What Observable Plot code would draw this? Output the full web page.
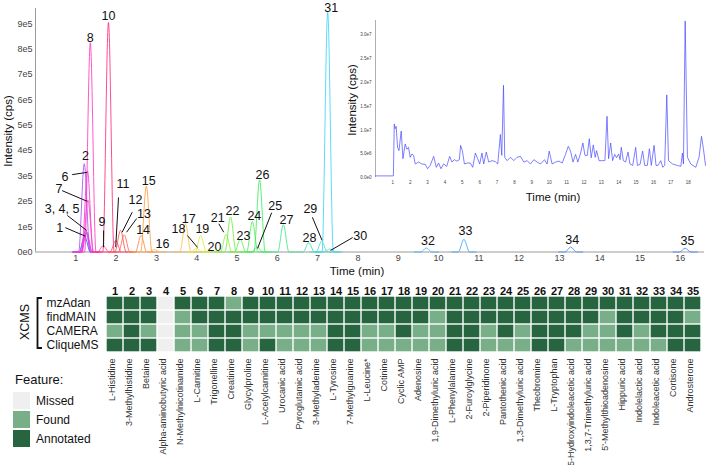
<!DOCTYPE html>
<html><head><meta charset="utf-8">
<script src="https://cdn.jsdelivr.net/npm/d3@7"></script>
<script src="https://cdn.jsdelivr.net/npm/@observablehq/plot@0.6"></script>
<style>
body{margin:0;background:#fff;font-family:"Liberation Sans",Arial,sans-serif;}
#wrap{position:relative;width:706px;height:465px;overflow:hidden;background:#fff;}
#wrap svg{position:absolute;overflow:visible;}
.ctr{position:absolute;transform:translate(-50%,-50%);white-space:nowrap;color:#111;}
.rot{position:absolute;transform:translate(-50%,-50%) rotate(-90deg);white-space:nowrap;color:#111;}
.sw{position:absolute;left:13px;width:17px;height:17px;}
.lg{position:absolute;left:36px;font-size:12px;color:#111;transform:translateY(-50%);}
</style></head><body><div id="wrap"></div>
<script>
// ---------- DATA ----------
const compoundNo = [1,2,3,4,5,6,7,8,9,10,11,12,13,14,15,16,17,18,19,20,21,22,23,24,25,26,27,28,29,30,31,32,33,34,35];
const compounds = ["L-Histidine","3-Methylhistidine","Betaine","Alpha-aminobutyric acid","N-Methylnicotinamide",
  "L-Carnitine","Trigonelline","Creatinine","Glycylproline","L-Acetylcarnitine","Urocanic acid","Pyroglutamic acid",
  "3-Methyladenine","L-Tyrosine","7-Methylguanine","L-Leucine*","Cotinine","Cyclic AMP","Adenosine",
  "1,9-Dimethyluric acid","L-Phenylalanine","2-Furoylglycine","2-Piperidinone","Pantothenic acid",
  "1,3-Dimethyluric acid","Theobromine","L-Tryptophan","5-Hydroxyindoleacetic acid","1,3,7-Trimethyluric acid",
  "5'-Methylthioadenosine","Hippuric acid","Indolelactic acid","Indoleacetic acid","Cortisone","Androsterone"];
// retention time (min) and apex intensity (cps) of each extracted peak
const peakRT = [1.22,1.21,1.24,1.26,1.27,1.29,1.30,1.36,1.68,1.81,1.99,2.11,2.20,2.62,2.75,2.95,3.72,4.00,4.10,4.35,
  4.73,4.84,5.08,5.38,5.50,5.56,6.15,6.78,7.10,7.30,7.25,9.70,10.63,13.28,16.12];
const peakHeight = [0.62e5,3.48e5,0.85e5,0.75e5,0.80e5,3.20e5,2.05e5,8.25e5,0.25e5,9.05e5,0.45e5,0.85e5,0.68e5,0.65e5,2.60e5,
  0.10e5,1.10e5,0.15e5,0.65e5,0.07e5,0.70e5,1.38e5,0.50e5,1.20e5,0.20e5,2.85e5,1.07e5,0.37e5,0.42e5,0.12e5,
  9.45e5,0.16e5,0.50e5,0.20e5,0.15e5];
// peak label annotations (data units) and leader lines
const labelText = ["1","3, 4, 5","6","7","2","8","10","9","11","12","13","14","15","16","17","18","19","20","21","22","23","24","25","26","27","28","29","30","31","32","33","34","35"];
const labelT = [0.60,0.66,0.73,0.58,1.24,1.36,1.81,1.65,2.17,2.48,2.69,2.67,2.81,3.15,3.80,3.55,4.14,4.44,4.52,4.89,5.16,5.43,5.95,5.63,6.23,6.80,6.82,8.06,7.34,9.74,10.67,13.32,16.18];
const labelH = [0.93e5,1.70e5,2.94e5,2.49e5,3.80e5,8.44e5,9.31e5,1.17e5,2.69e5,2.06e5,1.48e5,0.85e5,2.78e5,0.33e5,1.32e5,0.89e5,0.89e5,0.18e5,1.36e5,1.63e5,0.65e5,1.40e5,1.80e5,3.05e5,1.28e5,0.57e5,1.71e5,0.65e5,9.62e5,0.43e5,0.82e5,0.48e5,0.43e5];
const leaderFrom = [[0.74,0.96e5],[0.79,1.44e5],[0.91,3.05e5],[0.66,2.42e5],[1.69,0.85e5],[2.06,2.15e5],[2.40,1.57e5],[2.51,1.32e5],[3.77,0.65e5],[4.55,1.11e5],[5.86,1.55e5],[6.87,1.37e5],[7.87,0.57e5]];
const leaderTo   = [[1.24,0.62e5],[1.27,0.85e5],[1.28,3.14e5],[1.28,2.00e5],[1.69,0.19e5],[1.99,0.19e5],[2.15,0.78e5],[2.26,0.78e5],[4.02,0.18e5],[4.67,0.78e5],[5.51,0.14e5],[7.11,0.46e5],[7.32,0.06e5]];
const mainXTicks = [1,2,3,4,5,6,7,8,9,10,11,12,13,14,15,16];
const mainYTicks = [0,1e5,2e5,3e5,4e5,5e5,6e5,7e5,8e5,9e5];
// total ion chromatogram (inset)
const ticTime = [0,1.03,1.08,1.13,1.19,1.27,1.35,1.48,1.58,1.71,
  1.81,1.90,2.00,2.10,2.19,2.29,2.48,2.67,2.87,3.00,
  3.15,3.35,3.50,3.63,3.77,3.92,4.10,4.27,4.40,4.54,
  4.69,4.83,4.90,5.00,5.12,5.27,5.46,5.60,5.75,5.88,
  6.00,6.13,6.23,6.38,6.52,6.71,6.90,7.04,7.19,7.27,
  7.37,7.44,7.58,7.77,7.96,8.15,8.35,8.54,8.73,8.92,
  9.12,9.31,9.50,9.73,9.88,10.00,10.17,10.37,10.56,10.75,
  10.94,11.10,11.23,11.37,11.52,11.65,11.81,11.94,12.06,12.19,
  12.31,12.42,12.54,12.65,12.73,12.87,13.06,13.21,13.33,13.42,
  13.54,13.65,13.77,13.88,14.00,14.08,14.15,14.27,14.40,14.54,
  14.65,14.81,14.98,15.08,15.23,15.38,15.50,15.65,15.77,15.88,
  16.04,16.15,16.27,16.42,16.54,16.65,16.77,16.87,17.10,17.38,
  17.58,17.67,17.73,17.83,17.96,18.15,18.44,18.63,18.77,18.88,
  19.00];
const ticIntensity = [0.04e7,0.04e7,1.13e7,1.03e7,1.08e7,0.64e7,0.57e7,0.98e7,0.40e7,0.71e7,
  0.60e7,0.64e7,0.43e7,0.50e7,0.47e7,0.29e7,0.33e7,0.29e7,0.28e7,0.19e7,
  0.26e7,0.45e7,0.22e7,0.31e7,0.19e7,0.29e7,0.24e7,0.45e7,0.33e7,0.38e7,
  0.35e7,0.38e7,0.68e7,0.57e7,0.29e7,0.31e7,0.31e7,0.22e7,0.52e7,0.40e7,
  0.29e7,0.52e7,0.29e7,0.54e7,0.33e7,0.36e7,0.34e7,0.29e7,0.91e7,0.47e7,
  1.94e7,0.43e7,0.36e7,0.43e7,0.36e7,0.43e7,0.45e7,0.33e7,0.36e7,0.29e7,
  0.38e7,0.33e7,0.29e7,0.38e7,0.29e7,0.56e7,0.29e7,0.33e7,0.35e7,0.31e7,
  0.49e7,0.66e7,0.56e7,0.33e7,0.49e7,0.33e7,0.52e7,0.73e7,0.47e7,0.47e7,
  0.82e7,0.42e7,0.69e7,0.43e7,0.57e7,0.36e7,0.36e7,0.36e7,1.29e7,0.40e7,
  0.73e7,0.36e7,0.49e7,0.42e7,0.50e7,0.38e7,0.64e7,0.36e7,0.33e7,0.54e7,
  0.29e7,0.26e7,0.64e7,0.26e7,0.28e7,0.56e7,0.26e7,0.26e7,0.61e7,0.26e7,
  0.68e7,0.26e7,0.26e7,0.36e7,0.22e7,0.26e7,1.74e7,0.36e7,0.29e7,0.26e7,
  0.24e7,0.52e7,0.29e7,3.29e7,0.43e7,0.29e7,0.22e7,0.43e7,0.87e7,0.61e7,
  0.26e7];
const insetXTicks = [1,2,3,4,5,6,7,8,9,10,11,12,13,14,15,16,17,18];
const insetYTicks = [0,5e6,1e7,1.5e7,2e7,2.5e7,3e7];
// feature status per tool (A = Annotated, F = Found, M = Missed)
const tools = ["mzAdan","findMAIN","CAMERA","CliqueMS"];
const statusMzAdan   = "AAAMAAAFAAAAAAAAAAAAAAAAAAAAAAAAAAA".split("");
const statusFindMAIN = "AAAMFAAAAAAAAAAAAAAFAAAAAAAAAFAAAAF".split("");
const statusCAMERA   = "FAFMFFAAFFFFFAAFFAFFAAFAFAAAFFAFAAA".split("");
const statusCliqueMS = "AAAMFFAAFAFFFAAFFFFFAAFFFAAFFFFFFAA".split("");
const statusNames = {A:"Annotated",F:"Found",M:"Missed"};
const featureLevels = ["Missed","Found","Annotated"];

// ---------- STYLE ----------
const peakColors = ["#4848ff","#a650ff","#c048ff","#d044f0","#e040e4","#f238d4","#ff44c4","#ff3cc0","#ff4898","#ff2e7c",
  "#ff4466","#ff5252","#ff6450","#ff8444","#ffa040","#ffb050","#ffc040","#ffd050","#d4f040","#b8f040",
  "#90f040","#6cee40","#60ee50","#50ee50","#48ee60","#40ec62","#40e882","#40e0a0","#40e0c0","#40dce0",
  "#40d4f8","#44b0ff","#44a4ff","#4c90ff","#4c80ff"];
const levelColors = ["#efefef","#78ae88","#26653f"];
const FONT = '"Liberation Sans", Arial, sans-serif';

// ---------- BUILD ----------
const wrap = document.getElementById("wrap");
const halfW = 0.14, baseW = 0.3;
const traces = [];
peakRT.forEach((rt, i) => {
  const h = peakHeight[i];
  [[rt - baseW, 0], [rt - halfW, 0], [rt, h], [rt + halfW, 0], [rt + baseW, 0]]
    .forEach(([t, v]) => traces.push({id: i + 1, t, v, c: peakColors[i]}));
});
const labels = labelText.map((s, i) => ({s, t: labelT[i], h: labelH[i]}));
const leaders = leaderFrom.map((f, i) => ({x1: f[0], y1: f[1], x2: leaderTo[i][0], y2: leaderTo[i][1]}));

const main = Plot.plot({
  width: 706, height: 280, marginLeft: 35, marginRight: 2, marginTop: 8, marginBottom: 28.5,
  style: {fontSize: "9px", fontFamily: FONT, color: "#444", background: "transparent", overflow: "visible"},
  x: {domain: [0, 16.6], ticks: mainXTicks, tickSize: 0, tickPadding: 3, label: null},
  y: {domain: [0, 9.6e5], ticks: mainYTicks, tickSize: 0, tickPadding: 3, label: null,
      tickFormat: d => d === 0 ? "0e0" : `${d / 1e5}e5`},
  color: {type: "identity"},
  marks: [
    Plot.ruleY([0], {stroke: "#9a9a9a"}),
    Plot.ruleX([0], {stroke: "#9a9a9a"}),
    Plot.line(traces, {x: "t", y: "v", z: "id", stroke: "c", curve: "monotone-x", strokeWidth: 1, strokeOpacity: 0.85}),
    Plot.link(leaders, {x1: "x1", y1: "y1", x2: "x2", y2: "y2", stroke: "#111", strokeWidth: 1}),
    Plot.text(labels, {x: "t", y: "h", text: "s", fontSize: 12.5, fill: "#111"})
  ]
});
main.style.left = "0px"; main.style.top = "0px";
wrap.appendChild(main);

const tic = ticTime.map((t, i) => ({t, v: ticIntensity[i]}));
const inset = Plot.plot({
  width: 366, height: 205, marginLeft: 35, marginRight: 1, marginTop: 20, marginBottom: 27.7,
  style: {fontSize: "4.5px", fontFamily: FONT, color: "#444", background: "transparent", overflow: "visible"},
  x: {domain: [0, 19], ticks: insetXTicks, tickSize: 0, tickPadding: 2.5, label: null},
  y: {domain: [0, 3.3e7], ticks: insetYTicks, tickSize: 0, tickPadding: 4, label: null,
      tickFormat: d => d.toExponential(1).replace("+", "")},
  marks: [
    Plot.ruleX([0], {stroke: "#9a9a9a", strokeWidth: 0.8}),
    Plot.line(tic, {x: "t", y: "v", stroke: "#4c4cff", strokeWidth: 0.8, strokeOpacity: 0.9})
  ]
});
inset.style.left = "340px"; inset.style.top = "0px";
wrap.appendChild(inset);

const statusRows = [statusMzAdan, statusFindMAIN, statusCAMERA, statusCliqueMS];
const cells = [];
tools.forEach((tool, r) => statusRows[r].forEach((s, i) => cells.push({n: compoundNo[i], tool, status: statusNames[s]})));

const heat = Plot.plot({
  width: 706, height: 195, marginLeft: 102, marginRight: 2, marginTop: 24, marginBottom: 112,
  style: {fontSize: "9px", fontFamily: FONT, color: "#222", background: "transparent", overflow: "visible"},
  x: {type: "band", domain: compoundNo, padding: 0, axis: null},
  y: {type: "band", domain: tools, padding: 0, axis: null},
  color: {domain: featureLevels, range: levelColors},
  marks: [
    Plot.cell(cells, {x: "n", y: "tool", fill: "status", inset: 0.7}),
    Plot.text(compoundNo, {x: d => d, frameAnchor: "top", dy: -7, text: d => String(d), fontWeight: "bold", fontSize: 11, fill: "#111"}),
    Plot.text(compounds, {x: (d, i) => compoundNo[i], frameAnchor: "bottom", dy: 5, rotate: -90, textAnchor: "end", text: d => d, fontSize: 9, fill: "#333"}),
    Plot.text(tools, {y: d => d, frameAnchor: "left", dx: -56, textAnchor: "start", text: d => d, fontSize: 12, fill: "#111"})
  ]
});
heat.style.left = "0px"; heat.style.top = "270px";
wrap.appendChild(heat);

// decorations / titles
function addDiv(cls, text, x, y, size) {
  const d = document.createElement("div");
  d.className = cls; d.textContent = text;
  d.style.left = x + "px"; d.style.top = y + "px"; d.style.fontSize = size + "px";
  wrap.appendChild(d); return d;
}
addDiv("rot", "Intensity (cps)", 8, 131, 11.5);
addDiv("ctr", "Time (min)", 357, 271, 11.5);
addDiv("rot", "Intensity (cps)", 352, 100, 11.5);
addDiv("ctr", "Time (min)", 553, 197, 11.5);
addDiv("rot", "XCMS", 25, 322, 12.5);

const ns = "http://www.w3.org/2000/svg";
const br = document.createElementNS(ns, "svg");
br.setAttribute("width", 10); br.setAttribute("height", 60);
br.style.left = "34px"; br.style.top = "294px";
const p = document.createElementNS(ns, "path");
p.setAttribute("d", "M8,4 H3.5 V54 H8");
p.setAttribute("fill", "none"); p.setAttribute("stroke", "#111"); p.setAttribute("stroke-width", "1.8");
br.appendChild(p); wrap.appendChild(br);

const ft = addDiv("lg", "Feature:", 0, 0, 13);
ft.style.left = "15px"; ft.style.top = "379px";
featureLevels.forEach((lvl, i) => {
  const s = document.createElement("div");
  s.className = "sw"; s.style.top = (392 + i * 19.2) + "px"; s.style.background = levelColors[i];
  wrap.appendChild(s);
  const l = addDiv("lg", lvl, 36, 401 + i * 19.2, 12);
  l.style.left = "36px";
});
</script></body></html>
